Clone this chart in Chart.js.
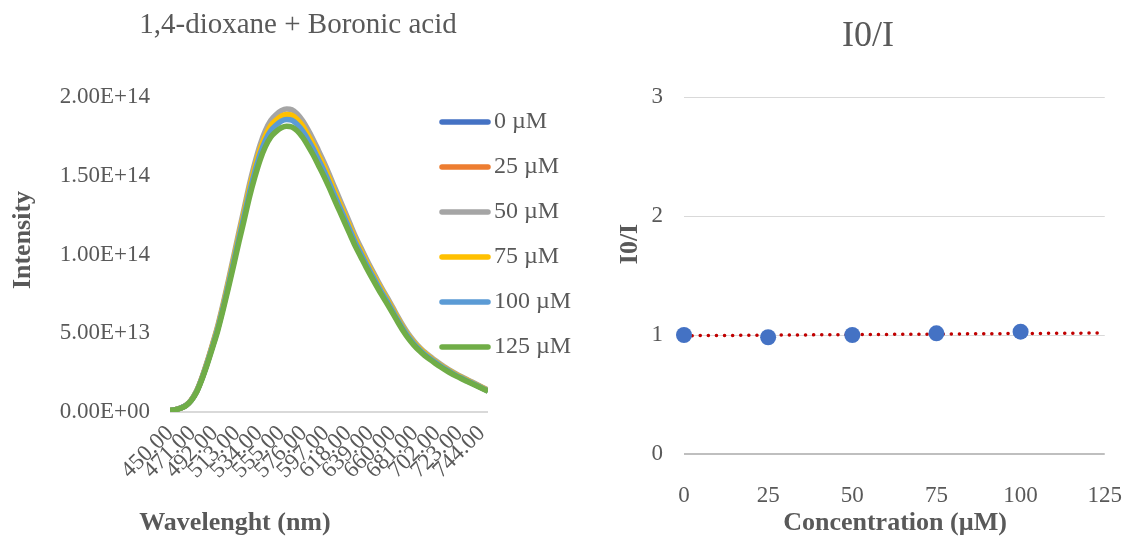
<!DOCTYPE html>
<html><head><meta charset="utf-8">
<script src="https://cdn.jsdelivr.net/npm/chart.js@4.4.0/dist/chart.umd.min.js"></script>
<style>
html,body{margin:0;padding:0;background:#fff;}
#wrap{position:relative;width:1142px;height:540px;overflow:hidden;background:#fff;}
canvas{position:absolute;top:0;}
#c1{left:0;}
#c2{left:596px;}
</style></head><body>
<div id="wrap"><canvas id="c1" width="596" height="540"></canvas><canvas id="c2" width="546" height="540"></canvas></div>
<script>
// ---------- Left chart data (intensity in units of 1E+14) ----------
const wavelengths = [450,455,460,465,470,475,480,485,490,495,500,505,510,515,520,525,530,535,540,545,550,555,560,565,570,575,580,585,590,595,600,605,610,615,620,625,630,635,640,645,650,655,660,665,670,675,680,685,690,695,700,705,710,715,720,725,730,735,740,745,750];
const seriesLabels = ['0 µM','25 µM','50 µM','75 µM','100 µM','125 µM'];
const seriesColors = ['#4472C4','#ED7D31','#A5A5A5','#FFC000','#5B9BD5','#70AD47'];
const int0 = [0.010,0.014,0.025,0.041,0.074,0.129,0.211,0.309,0.417,0.530,0.664,
0.809,0.958,1.110,1.257,1.406,1.535,1.648,1.736,1.797,1.833,
1.859,1.869,1.864,1.839,1.797,1.743,1.682,1.614,1.545,1.470,
1.391,1.313,1.236,1.159,1.082,1.015,0.948,0.884,0.822,0.762,
0.706,0.647,0.587,0.530,0.480,0.438,0.402,0.371,0.344,0.319,
0.296,0.274,0.253,0.235,0.217,0.201,0.184,0.168,0.151,0.135];
const int25 = [0.010,0.014,0.025,0.041,0.075,0.129,0.212,0.311,0.419,0.533,0.668,
0.812,0.963,1.116,1.263,1.413,1.542,1.656,1.744,1.806,1.842,
1.868,1.879,1.873,1.847,1.806,1.751,1.690,1.622,1.553,1.477,
1.397,1.320,1.242,1.164,1.087,1.019,0.952,0.888,0.826,0.766,
0.709,0.650,0.590,0.533,0.482,0.440,0.404,0.373,0.346,0.321,
0.298,0.275,0.255,0.236,0.218,0.202,0.185,0.169,0.152,0.136];
const int50 = [0.011,0.015,0.025,0.042,0.076,0.133,0.217,0.318,0.429,0.546,0.684,
0.832,0.986,1.143,1.293,1.447,1.579,1.696,1.786,1.850,1.887,
1.913,1.924,1.919,1.892,1.850,1.794,1.731,1.661,1.590,1.513,
1.431,1.352,1.272,1.193,1.113,1.044,0.975,0.909,0.846,0.784,
0.726,0.666,0.604,0.546,0.494,0.451,0.413,0.382,0.354,0.329,
0.304,0.282,0.261,0.242,0.224,0.207,0.190,0.173,0.156,0.139];
const int75 = [0.010,0.015,0.025,0.042,0.075,0.130,0.213,0.312,0.422,0.536,0.671,
0.817,0.968,1.122,1.270,1.421,1.551,1.666,1.754,1.817,1.853,
1.879,1.889,1.884,1.858,1.817,1.761,1.700,1.631,1.562,1.486,
1.405,1.327,1.249,1.171,1.093,1.025,0.958,0.893,0.831,0.770,
0.713,0.654,0.593,0.536,0.485,0.442,0.406,0.375,0.348,0.323,
0.299,0.277,0.256,0.237,0.220,0.203,0.186,0.170,0.153,0.136];
const int100 = [0.010,0.014,0.025,0.041,0.074,0.128,0.210,0.307,0.414,0.527,0.660,
0.803,0.951,1.103,1.248,1.396,1.524,1.637,1.724,1.785,1.821,
1.847,1.857,1.852,1.826,1.785,1.731,1.671,1.603,1.535,1.460,
1.381,1.304,1.228,1.151,1.074,1.008,0.941,0.878,0.816,0.757,
0.701,0.642,0.583,0.527,0.477,0.435,0.399,0.368,0.342,0.317,
0.294,0.272,0.252,0.233,0.216,0.199,0.183,0.167,0.150,0.134];
const int125 = [0.010,0.014,0.024,0.040,0.072,0.125,0.205,0.300,0.405,0.515,0.645,
0.785,0.930,1.078,1.220,1.365,1.490,1.600,1.685,1.745,1.780,
1.805,1.815,1.810,1.785,1.745,1.692,1.633,1.567,1.500,1.427,
1.350,1.275,1.200,1.125,1.050,0.985,0.920,0.858,0.798,0.740,
0.685,0.628,0.570,0.515,0.466,0.425,0.390,0.360,0.334,0.310,
0.287,0.266,0.246,0.228,0.211,0.195,0.179,0.163,0.147,0.131];
const wavelengthTicks = [450,471,492,513,534,555,576,597,618,639,660,681,702,723,744];
const intensityTicks = [0,0.5,1,1.5,2];

// ---------- Right chart data ----------
const concentration = [0,25,50,75,100];
const i0OverI = [1.000,0.981,1.000,1.014,1.028];
const trendX = [0,125];
const trendY = [0.994,1.017];
const concTicks = [0,25,50,75,100,125];
const ratioTicks = [0,1,2,3];

const spectra = [int0,int25,int50,int75,int100,int125];
const FONT = "'Liberation Serif','Times New Roman',serif";
const TXT = '#595959';
Chart.defaults.font.family = FONT;
Chart.defaults.color = TXT;

function sci(v){
  const n = v*1e14;
  if (n === 0) return '0.00E+00';
  const e = Math.floor(Math.log10(n)+1e-9);
  const m = n/Math.pow(10,e);
  return m.toFixed(2)+'E+'+String(e).padStart(2,'0');
}

function drawText(ctx, text, x, y, font, rot){
  ctx.save();
  ctx.translate(x,y);
  if (rot) ctx.rotate(rot);
  ctx.font = font; ctx.fillStyle = TXT;
  ctx.textAlign = 'center'; ctx.textBaseline = 'middle';
  ctx.fillText(text,0,0);
  ctx.restore();
}

const leftExtras = {
  id:'leftExtras',
  afterDraw(chart){
    const ctx = chart.ctx;
    chart.data.datasets.forEach((ds,i)=>{
      const y = 122 + 45*i;
      ctx.save();
      ctx.strokeStyle = ds.borderColor; ctx.lineWidth = 5.5; ctx.lineCap = 'round';
      ctx.beginPath(); ctx.moveTo(442,y); ctx.lineTo(488,y); ctx.stroke();
      ctx.fillStyle = TXT; ctx.font = '24px '+FONT;
      ctx.textAlign = 'left'; ctx.textBaseline = 'middle';
      ctx.fillText(ds.label, 494, y);
      ctx.restore();
    });
    drawText(ctx,'1,4-dioxane + Boronic acid',298,25,'29px '+FONT,0);
    drawText(ctx,'Wavelenght (nm)',235,523,'bold 26px '+FONT,0);
    drawText(ctx,'Intensity',23,240,'bold 26px '+FONT,-Math.PI/2);
  }
};

const rightExtras = {
  id:'rightExtras',
  afterDraw(chart){
    const ctx = chart.ctx;
    drawText(ctx,'Concentration (µM)',299,523,'bold 26px '+FONT,0);
    drawText(ctx,'I0/I',34,244,'bold 26px '+FONT,-Math.PI/2);
  }
};

new Chart(document.getElementById('c1'),{
  type:'line',
  data:{
    datasets: seriesLabels.map((lab,i)=>({
      label: lab,
      data: wavelengths.map((w,j)=>({x:w, y:spectra[i][j]})),
      borderColor: seriesColors[i],
      backgroundColor: seriesColors[i],
      borderWidth: 5.5,
      pointRadius: 0,
      cubicInterpolationMode: 'monotone',
      fill: false,
      order: seriesLabels.length-1-i
    }))
  },
  options:{
    responsive:false, animation:false, devicePixelRatio:1,
    layout:{padding:{left:0,right:108,top:97,bottom:0}},
    plugins:{ legend:{display:false}, tooltip:{enabled:false}, title:{display:false} },
    scales:{
      x:{
        type:'linear', min:450, max:750,
        afterBuildTicks: s=>{ s.ticks = wavelengthTicks.map(v=>({value:v})); },
        afterFit: s=>{ s.height = 128; },
        grid:{display:false}, border:{display:false},
        ticks:{autoSkip:false, minRotation:45, maxRotation:45, padding:0, color:TXT,
          font:{family:FONT,size:23}, callback:v=>Number(v).toFixed(2)}
      },
      y:{
        min:0, max:2,
        afterBuildTicks: s=>{ s.ticks = intensityTicks.map(v=>({value:v})); },
        afterFit: s=>{ s.width = 170; },
        grid:{drawTicks:false, lineWidth:2, color: c => (c.tick && c.tick.value===0) ? '#d9d9d9' : 'rgba(0,0,0,0)'},
        border:{display:false},
        ticks:{padding:20, color:TXT, font:{family:FONT,size:23}, callback:v=>sci(v)}
      }
    }
  },
  plugins:[leftExtras]
});

new Chart(document.getElementById('c2'),{
  type:'scatter',
  data:{
    datasets:[
      {label:'I0/I', data: concentration.map((c,i)=>({x:c,y:i0OverI[i]})),
        backgroundColor:'#4472C4', borderColor:'#4472C4', borderWidth:0, pointRadius:8, order:0, clip:false},
      {label:'Linear (I0/I)', data: trendX.map((x,i)=>({x:x,y:trendY[i]})),
        showLine:true, borderColor:'#C00000', backgroundColor:'#C00000', borderWidth:3.5,
        borderDash:[0.1,8], borderCapStyle:'round', pointRadius:0, order:1, clip:false}
    ]
  },
  options:{
    responsive:false, animation:false, devicePixelRatio:1,
    layout:{padding:{left:20,right:22,top:0,bottom:0}},
    plugins:{
      legend:{display:false}, tooltip:{enabled:false},
      title:{display:true, text:'I0/I', color:TXT,
        font:{family:FONT,size:36,weight:'normal'}, padding:{top:15,bottom:38.8}}
    },
    scales:{
      x:{
        type:'linear', min:0, max:125,
        afterBuildTicks: s=>{ s.ticks = concTicks.map(v=>({value:v})); },
        afterFit: s=>{ s.height = 86; },
        grid:{display:false}, border:{display:false},
        ticks:{padding:20, color:TXT, font:{family:FONT,size:23}}
      },
      y:{
        min:0, max:3,
        afterBuildTicks: s=>{ s.ticks = ratioTicks.map(v=>({value:v})); },
        afterFit: s=>{ s.width = 68; },
        grid:{drawTicks:false,
          color: c => (c.tick && c.tick.value===0) ? '#bfbfbf' : '#d9d9d9',
          lineWidth: c => (c.tick && c.tick.value===0) ? 2 : 1},
        border:{display:false},
        ticks:{padding:21, color:TXT, font:{family:FONT,size:23}}
      }
    }
  },
  plugins:[rightExtras]
});
</script>
</body></html>
